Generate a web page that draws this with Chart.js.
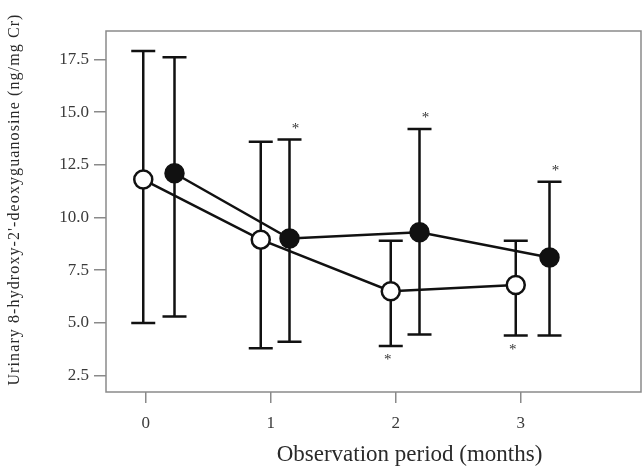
<!DOCTYPE html>
<html>
<head>
<meta charset="utf-8">
<script src="https://cdn.jsdelivr.net/npm/chart.js@4.4.0/dist/chart.umd.min.js"></script>
<style>
  html, body { margin: 0; padding: 0; background: #fff; }
</style>
</head>
<body>
<canvas id="chart" width="642" height="469"></canvas>
<script>
// tick values
const months = [0, 1, 2, 3];
const yTicks = [2.5, 5.0, 7.5, 10.0, 12.5, 15.0, 17.5];

// open circles (slightly shifted left of each month)
const openX = [-0.02, 0.92, 1.96, 2.96];
const openMean = [11.8, 8.95, 6.5, 6.8];
const openHigh = [17.9, 13.6, 8.9, 8.9];
const openLow = [5.0, 3.8, 3.9, 4.4];
const openStar = [false, false, true, true]; // asterisk under the bar

// filled circles (shifted right)
const filledX = [0.23, 1.15, 2.19, 3.23];
const filledMean = [12.1, 9.0, 9.3, 8.1];
const filledHigh = [17.6, 13.7, 14.2, 11.7];
const filledLow = [5.3, 4.1, 4.45, 4.4];
const filledStar = [false, true, true, true]; // asterisk above the bar

const ink = "#111";
const frameGray = "#8a8a8a";
const serif = "'Liberation Serif', 'DejaVu Serif', serif";

function toPoints(xs, ys) {
    return xs.map((x, i) => ({ x: x, y: ys[i] }));
}

// error bars, frame and asterisks
const errorBars = {
    id: "errorBars",
    beforeDatasetsDraw(chart) {
        const ctx = chart.ctx;
        const xs = chart.scales.x;
        const ys = chart.scales.y;
        const a = chart.chartArea;

        ctx.save();
        // box around plot
        ctx.strokeStyle = frameGray;
        ctx.lineWidth = 1.5;
        ctx.strokeRect(a.left, a.top, a.right - a.left, a.bottom - a.top);

        ctx.strokeStyle = ink;
        ctx.lineWidth = 2.5;
        const cap = 12;
        const series = [
            [openX, openHigh, openLow],
            [filledX, filledHigh, filledLow]
        ];
        series.forEach(([px, hi, lo]) => {
            px.forEach((v, i) => {
                const x = xs.getPixelForValue(v);
                const yh = ys.getPixelForValue(hi[i]);
                const yl = ys.getPixelForValue(lo[i]);
                ctx.beginPath();
                ctx.moveTo(x, yh);
                ctx.lineTo(x, yl);
                ctx.moveTo(x - cap, yh);
                ctx.lineTo(x + cap, yh);
                ctx.moveTo(x - cap, yl);
                ctx.lineTo(x + cap, yl);
                ctx.stroke();
            });
        });
        ctx.restore();
    },
    afterDraw(chart) {
        const ctx = chart.ctx;
        const xs = chart.scales.x;
        const ys = chart.scales.y;
        const a = chart.chartArea;

        ctx.save();
        ctx.fillStyle = "#333";
        ctx.textAlign = "center";
        ctx.textBaseline = "alphabetic";
        ctx.font = "15px " + serif;
        filledX.forEach((v, i) => {
            if (!filledStar[i]) return;
            const x = xs.getPixelForValue(v) + 6;
            const y = ys.getPixelForValue(filledHigh[i]) - 15;
            ctx.fillText("*", x, y + 8);
        });
        openX.forEach((v, i) => {
            if (!openStar[i]) return;
            const x = xs.getPixelForValue(v) - 3;
            const y = ys.getPixelForValue(openLow[i]) + 10;
            ctx.fillText("*", x, y + 8);
        });

        // axis titles
        ctx.fillStyle = "#2a2a2a";
        ctx.textBaseline = "middle";
        ctx.font = "23px " + serif;
        ctx.fillText("Observation period (months)", (a.left + a.right) / 2 + 36, 455);

        ctx.translate(15, (a.top + a.bottom) / 2 - 12);
        ctx.rotate(-Math.PI / 2);
        ctx.font = "16px " + serif;
        ctx.letterSpacing = "1.1px";
        ctx.fillText("Urinary 8-hydroxy-2'-deoxyguanosine (ng/mg Cr)", 0, 0);
        ctx.restore();
    }
};

const ctx = document.getElementById("chart").getContext("2d");
new Chart(ctx, {
    type: "line",
    data: {
        datasets: [
            {
                label: "open",
                data: toPoints(openX, openMean),
                borderColor: ink,
                borderWidth: 2.5,
                pointRadius: 9,
                pointBorderWidth: 2.5,
                pointBorderColor: ink,
                pointBackgroundColor: "#fff",
                tension: 0
            },
            {
                label: "filled",
                data: toPoints(filledX, filledMean),
                borderColor: ink,
                borderWidth: 2.5,
                pointRadius: 9.5,
                pointBorderWidth: 1.5,
                pointBorderColor: ink,
                pointBackgroundColor: ink,
                tension: 0
            }
        ]
    },
    options: {
        responsive: false,
        animation: false,
        devicePixelRatio: 1,
        layout: { autoPadding: false, padding: { top: 31, right: 1, left: 0, bottom: 0 } },
        plugins: {
            legend: { display: false },
            tooltip: { enabled: false }
        },
        scales: {
            x: {
                type: "linear",
                min: -0.318,
                max: 3.962,
                afterBuildTicks: (s) => { s.ticks = months.map((v) => ({ value: v })); },
                afterFit: (s) => { s.height = 77; },
                grid: { drawOnChartArea: false, tickLength: 11, color: frameGray, lineWidth: 1.5 },
                border: { display: false },
                ticks: {
                    color: "#3a3a3a",
                    padding: 10,
                    font: { family: serif, size: 17 }
                }
            },
            y: {
                min: 1.72,
                max: 18.85,
                afterBuildTicks: (s) => { s.ticks = yTicks.map((v) => ({ value: v })); },
                afterFit: (s) => { s.width = 106; },
                grid: { drawOnChartArea: false, tickLength: 12, color: frameGray, lineWidth: 1.5 },
                border: { display: false },
                ticks: {
                    color: "#3a3a3a",
                    padding: 5,
                    font: { family: serif, size: 17 },
                    callback: (v) => Number(v).toFixed(1)
                }
            }
        }
    },
    plugins: [errorBars]
});
</script>
</body>
</html>
